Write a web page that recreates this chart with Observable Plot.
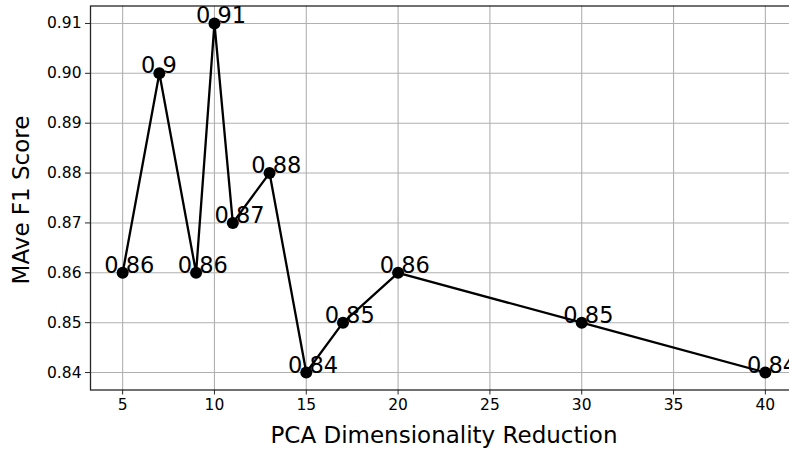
<!DOCTYPE html>
<html>
<head>
<meta charset="utf-8">
<script src="https://cdn.jsdelivr.net/npm/d3@7"></script>
<script src="https://cdn.jsdelivr.net/npm/@observablehq/plot@0.6"></script>
<style>
  html, body { margin: 0; padding: 0; background: #fff; overflow: hidden; }
  #chart svg { overflow: visible; }
</style>
</head>
<body>
<div id="chart"></div>
<script>
const dims = [5, 7, 9, 10, 11, 13, 15, 17, 20, 30, 40];
const scores = [0.86, 0.90, 0.86, 0.91, 0.87, 0.88, 0.84, 0.85, 0.86, 0.85, 0.84];
const pointLabels = ["0.86", "0.9", "0.86", "0.91", "0.87", "0.88", "0.84", "0.85", "0.86", "0.85", "0.84"];
const xTicks = [5, 10, 15, 20, 25, 30, 35, 40];
const yTicks = [0.84, 0.85, 0.86, 0.87, 0.88, 0.89, 0.90, 0.91];
const xLabel = "PCA Dimensionality Reduction";
const yLabel = "MAve F1 Score";

const data = dims.map((d, i) => ({x: d, y: scores[i], label: pointLabels[i]}));

const font = "DejaVu Sans, sans-serif";
const ink = "#000";

const chart = Plot.plot({
  width: 789,
  height: 449,
  marginLeft: 90,
  marginRight: -8,
  marginTop: 5.5,
  marginBottom: 59.5,
  style: {fontFamily: font, background: "#fff", overflow: "visible"},
  x: {domain: [3.25, 41.75]},
  y: {domain: [0.8365, 0.9135]},
  marks: [
    Plot.gridX(xTicks, {stroke: "#b0b0b0", strokeOpacity: 1, strokeWidth: 1.1}),
    Plot.gridY(yTicks, {stroke: "#b0b0b0", strokeOpacity: 1, strokeWidth: 1.1}),
    Plot.axisX(xTicks, {tickSize: 5, tickPadding: 4, fontSize: 15.5, stroke: "#262626", color: ink, tickFormat: d => String(d), label: null}),
    Plot.axisY(yTicks, {tickSize: 5, tickPadding: 4, fontSize: 15.5, stroke: "#262626", color: ink, tickFormat: d => d.toFixed(2), label: null}),
    Plot.frame({stroke: "#262626", strokeWidth: 1.3}),
    Plot.line(data, {x: "x", y: "y", stroke: ink, strokeWidth: 2.3}),
    Plot.dot(data, {x: "x", y: "y", r: 6, fill: ink, stroke: null}),
    Plot.text(data, {x: d => d.x - 1, y: "y", text: "label", textAnchor: "start", lineAnchor: "bottom", fontSize: 22.5, fill: ink}),
    Plot.text([xLabel], {frameAnchor: "bottom", dy: 53, lineAnchor: "bottom", fontSize: 23, fill: ink, text: d => d}),
    Plot.text([yLabel], {frameAnchor: "left", dx: -69, dy: 2, rotate: -90, textAnchor: "middle", lineAnchor: "middle", fontSize: 23, fill: ink, text: d => d})
  ]
});
document.getElementById("chart").appendChild(chart);
</script>
</body>
</html>
